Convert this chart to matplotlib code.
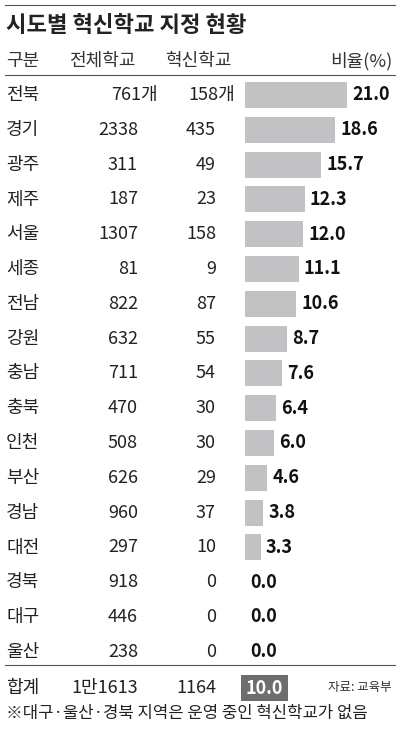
import matplotlib
matplotlib.use("Agg")
import matplotlib.pyplot as plt

plt.rcParams['font.family'] = ['Noto Sans CJK KR', 'DejaVu Sans']

regions = ["전북","경기","광주","제주","서울","세종","전남","강원","충남","충북","인천","부산","경남","대전","경북","대구","울산"]
total = ["761개","2338","311","187","1307","81","822","632","711","470","508","626","960","297","918","446","238"]
innov = ["158개","435","49","23","158","9","87","55","54","30","30","29","37","10","0","0","0"]
ratio = [21.0,18.6,15.7,12.3,12.0,11.1,10.6,8.7,7.6,6.4,6.0,4.6,3.8,3.3,0.0,0.0,0.0]
sum_total, sum_innov, sum_ratio = "1만1613", "1164", 10.0

fig = plt.figure(figsize=(4, 7.33), dpi=100)
ax = fig.add_axes([0, 0, 1, 1])
ax.set_xlim(0, 400); ax.set_ylim(733, 0); ax.axis('off')

fs = 13
ax.plot([5, 395], [5, 5], color='#555', lw=0.8)
ax.text(6, 26, "시도별 혁신학교 지정 현황", fontsize=16, fontweight='bold', va='center', color='#222')
ax.text(6, 61, "구분", fontsize=fs, va='center', color='#333')
ax.text(136, 61, "전체학교", fontsize=fs, va='center', ha='right', color='#333')
ax.text(232, 61, "혁신학교", fontsize=fs, va='center', ha='right', color='#333')
ax.text(392, 61, "비율(%)", fontsize=fs, va='center', ha='right', color='#333')
ax.plot([5, 395], [75, 75], color='#555', lw=0.8)

x0, scale, y0, dy = 245, 102/21.0, 95, 34.8
ys = [y0 + i*dy for i in range(len(regions))]
ax.barh(ys, [r*scale for r in ratio], left=x0, height=26, color='#c2c2c4')
for y, reg, t, n, r in zip(ys, regions, total, innov, ratio):
    ax.text(6, y, reg, fontsize=fs, va='center', color='#222')
    ax.text(158 if t.endswith("개") else 138, y, t, fontsize=fs, va='center', ha='right', color='#222')
    ax.text(235 if n.endswith("개") else 216, y, n, fontsize=fs, va='center', ha='right', color='#222')
    ax.text(x0 + r*scale + 5, y, f"{r:.1f}", fontsize=fs, va='center', fontweight='bold', color='#111')
ax.plot([5, 395], [665, 665], color='#555', lw=0.8)
ty = 688
ax.text(6, ty, "합계", fontsize=fs, va='center', color='#222')
ax.text(138, ty, sum_total, fontsize=fs, va='center', ha='right', color='#222')
ax.text(216, ty, sum_innov, fontsize=fs, va='center', ha='right', color='#222')
ax.barh([ty], [47], left=x0-4, height=26, color='#6e6e70')
ax.text(x0+19.5, ty, f"{sum_ratio:.1f}", fontsize=fs, va='center', ha='center', fontweight='bold', color='white')
ax.text(392, ty, "자료: 교육부", fontsize=9, va='center', ha='right', color='#333')
ax.text(6, 713, "※대구·울산·경북 지역은 운영 중인 혁신학교가 없음", fontsize=12, va='center', color='#222')
fig.savefig("out.png", dpi=100)
